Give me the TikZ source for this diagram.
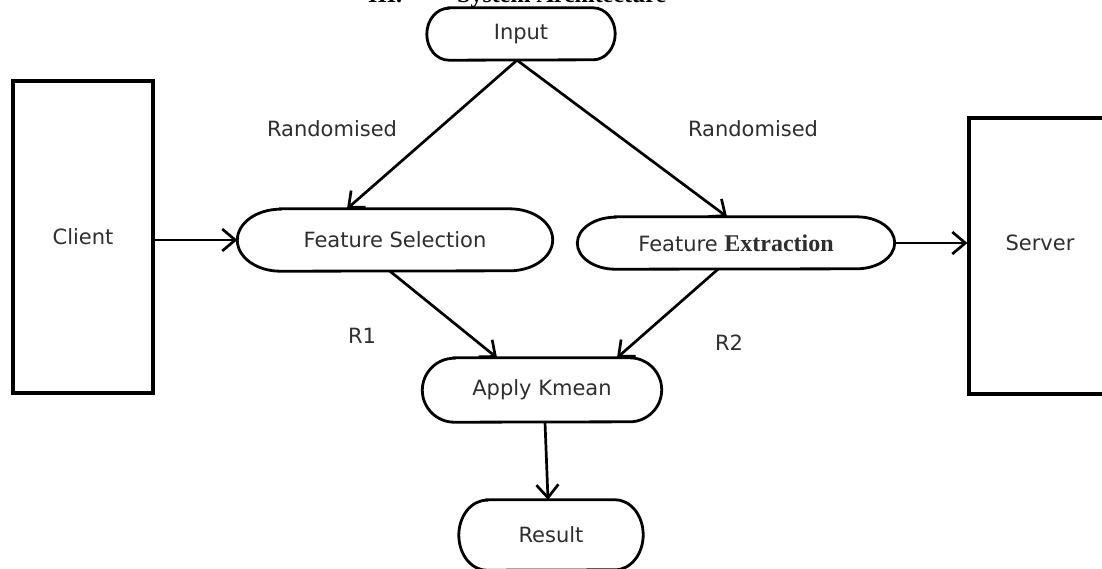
\documentclass[tikz,border=0pt]{standalone}
\usepackage{fontspec}
\newfontfamily\vfont{DejaVu Sans}
\newfontfamily\tfont{Liberation Serif}
\usetikzlibrary{arrows.meta}
\definecolor{txt}{HTML}{2E2E2E}
\tikzset{
  sansfont/.style={font=\vfont\fontsize{21}{25}\selectfont},
  stad/.style={draw=none, inner sep=0pt, text=txt, sansfont},
  shp/.style={draw=black, line width=2.8pt},
  boxn/.style={draw=black, line width=3.2pt, inner sep=0pt, text=txt, sansfont},
  arr/.style={draw=black, line width=2.7pt, -{Straight Barb[length=13pt,width=22pt]}},
  lbl/.style={text=txt, inner sep=0pt, sansfont},
  ttl/.style={anchor=base west, inner sep=0pt, font=\tfont\bfseries\fontsize{24}{28}\selectfont},
}
\newcommand{\stadnode}[7]{%
  \node[stad, minimum width=#4pt, minimum height=#5pt] (#1) at (#2,#3) {#7};
  \draw[shp] ([xshift=#6pt]#1.north west) -- ([xshift=-#6pt]#1.north east)
    arc[start angle=90, end angle=-90, x radius=#6pt, y radius=0.5*#5pt]
    -- ([xshift=#6pt]#1.south west)
    arc[start angle=270, end angle=90, x radius=#6pt, y radius=0.5*#5pt] -- cycle;}
\begin{document}
\begin{tikzpicture}[x=1pt,y=-1pt]
\useasboundingbox (0,0) rectangle (1102,568);
\clip (0,0) rectangle (1102,568);
\fill[white] (0,0) rectangle (1102,568);
% title (cut off at the top, as in the reference)
\node[ttl] (t1) at (368,2) {III.};
\node[ttl] (t2) at (457,2) {System Architecture};
% boxes
\node[boxn, minimum width=140pt, minimum height=312pt] (client) at (83,237) {Client};
\node[boxn, minimum width=161pt, minimum height=276pt] (server) at (1049.5,256) {};
\node[lbl] (servertxt) at (1040,243) {Server};
% rounded nodes
\stadnode{input}{521}{34}{188}{52}{22}{Input}
\stadnode{fs}{395}{240}{315}{62}{43}{Feature Selection}
\stadnode{fe}{736}{243}{317}{52}{38}{Feature {\tfont\bfseries\fontsize{24}{28}\selectfont Extraction}}
\stadnode{ak}{542}{390}{239}{64}{32}{Apply Kmean}
\stadnode{res}{551}{535}{184}{70}{28}{Result}
% labels
\node[lbl] (r1) at (332,129) {Randomised};
\node[lbl] (r2) at (753,129) {Randomised};
\node[lbl] (l1) at (362,336) {R1};
\node[lbl] (l2) at (729,343) {R2};
% connectors
\draw[arr] ([xshift=-4pt]input.south) -- ([xshift=-48pt]fs.north);
\draw[arr] ([xshift=-4pt]input.south) -- ([xshift=-9pt]fe.north);
\draw[arr] (client.east |- fs.west) -- (fs.west);
\draw[arr] (fe.east) -- (fe.east -| server.west);
\draw[arr] ([xshift=-5pt]fs.south) -- ([xshift=-45pt]ak.north);
\draw[arr] ([xshift=-18pt]fe.south) -- ([xshift=75pt]ak.north);
\draw[arr] ([xshift=3pt]ak.south) -- ([xshift=-3pt]res.north);
\end{tikzpicture}
\end{document}
